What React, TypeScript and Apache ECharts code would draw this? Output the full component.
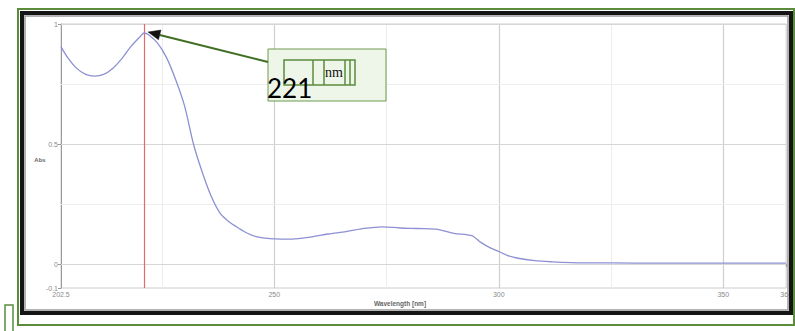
import React, { useEffect, useRef } from "react";
import * as echarts from "echarts";

// Absorption spectrum (wavelength in nm, absorbance)
const wavelengths = [
  202.5, 204, 206, 208, 210, 212, 214, 216, 218, 220, 221, 222, 224, 226, 228,
  230, 232, 234, 236, 238, 240, 242, 244, 246, 248, 250, 254, 258, 262, 266,
  270, 274, 278, 282, 286, 290, 294, 296, 298, 300, 302, 304, 308, 312, 316,
  320, 330, 340, 350, 364,
];
const absorbance = [
  0.905, 0.86, 0.815, 0.79, 0.783, 0.79, 0.815, 0.855, 0.905, 0.945, 0.9625,
  0.955, 0.92, 0.86, 0.77, 0.66, 0.5, 0.38, 0.28, 0.21, 0.175, 0.15, 0.128,
  0.114, 0.108, 0.105, 0.104, 0.112, 0.125, 0.135, 0.148, 0.155, 0.15, 0.148,
  0.145, 0.128, 0.118, 0.09, 0.068, 0.052, 0.035, 0.025, 0.014, 0.009, 0.006,
  0.005, 0.004, 0.004, 0.004, 0.004,
];

const xLabelValues = [202.5, 250, 300, 350, 364];
const yLabelValues = [-0.1, 0, 0.5, 1];
const majorX = [250, 300, 350];
const minorX = [225, 275, 325];
const majorY = [0, 0.5, 1];
const minorY = [0.25, 0.75];

const peakWavelength = 221;
const peakLabel = "221";
const unitLabel = "nm";
const xAxisTitle = "Wavelength [nm]";
const yAxisTitle = "Abs";

const GREEN = "#5b8c3c";

export default function App() {
  const ref = useRef<HTMLDivElement>(null);

  useEffect(() => {
    const chart = echarts.init(ref.current!, null, { renderer: "svg" });
    const points = wavelengths.map((w, i) => [w, absorbance[i]]);
    const peakAbs = absorbance[wavelengths.indexOf(peakWavelength)];

    const gridLines = [
      ...majorX.map((v) => ({ xAxis: v, lineStyle: { color: "#cfcfcf", width: 1.2, type: "solid" } })),
      ...minorX.map((v) => ({ xAxis: v, lineStyle: { color: "#ededed", width: 1, type: "solid" } })),
      ...majorY.map((v) => ({ yAxis: v, lineStyle: { color: "#d6d6d6", width: 1.2, type: "solid" } })),
      ...minorY.map((v) => ({ yAxis: v, lineStyle: { color: "#ededed", width: 1, type: "solid" } })),
    ];

    chart.setOption({
      animation: false,
      backgroundColor: "#ffffff",
      grid: {
        left: 61,
        top: 24,
        width: 726,
        height: 264,
        show: true,
        borderColor: "#cccccc",
        borderWidth: 1,
      },
      xAxis: {
        type: "value",
        min: 202.5,
        max: 364,
        axisLine: { show: true, lineStyle: { color: "#9a9a9a", width: 1 } },
        axisTick: { show: true, customValues: xLabelValues, length: 3, lineStyle: { color: "#999" } },
        axisLabel: {
          customValues: xLabelValues,
          formatter: (v: number) => String(v),
          fontSize: 7,
          color: "#8a8a8a",
          margin: 3,
          showMinLabel: true,
          showMaxLabel: true,
        },
        splitLine: { show: false },
      },
      yAxis: {
        type: "value",
        min: -0.1,
        max: 1,
        axisLine: { show: true, lineStyle: { color: "#9a9a9a", width: 1 } },
        axisTick: { show: true, customValues: yLabelValues, length: 3, lineStyle: { color: "#999" } },
        axisLabel: {
          customValues: yLabelValues,
          formatter: (v: number) => String(v),
          fontSize: 7,
          color: "#8a8a8a",
          margin: 3,
          showMinLabel: true,
          showMaxLabel: true,
        },
        splitLine: { show: false },
      },
      series: [
        {
          type: "line",
          data: points,
          smooth: 0.3,
          showSymbol: false,
          z: 3,
          lineStyle: { color: "#8d90d4", width: 1.3 },
          markLine: {
            silent: true,
            symbol: "none",
            label: { show: false },
            z: 1,
            data: [
              ...gridLines,
              { xAxis: peakWavelength, lineStyle: { color: "#e26a6a", width: 1.2, type: "solid" } },
            ],
          },
        },
      ],
    });

    // Arrow pointing at the absorption maximum
    const tip = chart.convertToPixel({ gridIndex: 0 }, [peakWavelength, peakAbs]) as number[];
    const tipX = tip[0] + 4;
    const tipY = tip[1] - 1;
    const tailX = 268;
    const tailY = 62;
    const dx = tipX - tailX;
    const dy = tipY - tailY;
    const len = Math.sqrt(dx * dx + dy * dy);
    const ux = dx / len;
    const uy = dy / len;
    const bx = tipX - ux * 12;
    const by = tipY - uy * 12;
    const nx = -uy;
    const ny = ux;

    chart.setOption({
      graphic: [
        // outer green frame
        { type: "rect", z: 100, shape: { x: 18, y: 9, width: 776, height: 316 }, style: { fill: "none", stroke: GREEN, lineWidth: 2 } },
        // dark bevelled window frame
        { type: "rect", z: 100, shape: { x: 22, y: 13, width: 769, height: 300 }, style: { fill: "none", stroke: "#151515", lineWidth: 4 } },
        { type: "rect", z: 100, shape: { x: 25, y: 16, width: 763, height: 294 }, style: { fill: "none", stroke: "#9a9a9a", lineWidth: 1.5 } },
        // small bracket at the bottom left
        { type: "polyline", z: 100, shape: { points: [[5, 331], [5, 305], [13, 305], [13, 331]] }, style: { fill: "none", stroke: GREEN, lineWidth: 1.5 } },
        // axis titles
        { type: "text", z: 100, x: 40, y: 160, style: { text: yAxisTitle, fontSize: 6, fontWeight: "bold", fill: "#666", align: "center", verticalAlign: "middle", fontFamily: "Liberation Sans" } },
        { type: "text", z: 100, x: 400, y: 303, style: { text: xAxisTitle, fontSize: 6.5, fontWeight: "bold", fill: "#666", align: "center", verticalAlign: "middle", fontFamily: "Liberation Sans" } },
        // annotation box
        { type: "rect", z: 100, shape: { x: 268, y: 49, width: 118, height: 52 }, style: { fill: "#eef5e9", stroke: "#6c9c4c", lineWidth: 1 } },
        { type: "rect", z: 101, shape: { x: 284, y: 60, width: 71, height: 25 }, style: { fill: "none", stroke: GREEN, lineWidth: 1.5 } },
        { type: "line", z: 101, shape: { x1: 313, y1: 60, x2: 313, y2: 85 }, style: { stroke: GREEN, lineWidth: 1.5 } },
        { type: "line", z: 101, shape: { x1: 324, y1: 60, x2: 324, y2: 85 }, style: { stroke: GREEN, lineWidth: 1.5 } },
        { type: "line", z: 101, shape: { x1: 345, y1: 60, x2: 345, y2: 85 }, style: { stroke: GREEN, lineWidth: 1.5 } },
        { type: "line", z: 101, shape: { x1: 350, y1: 60, x2: 350, y2: 85 }, style: { stroke: GREEN, lineWidth: 1.5 } },
        { type: "text", z: 102, x: 334, y: 72, style: { text: unitLabel, fontSize: 14, fill: "#111", align: "center", verticalAlign: "middle", fontFamily: "Liberation Serif" } },
        { type: "text", z: 102, x: 267, y: 88, style: { text: peakLabel, fontSize: 26, fill: "#000", align: "left", verticalAlign: "middle", fontFamily: "Lato" } },
        // arrow
        { type: "line", z: 102, shape: { x1: tailX, y1: tailY, x2: bx, y2: by }, style: { stroke: "#3f6e24", lineWidth: 2 } },
        {
          type: "polygon",
          z: 103,
          shape: { points: [[tipX, tipY], [bx + nx * 5, by + ny * 5], [bx - nx * 5, by - ny * 5]] },
          style: { fill: "#111", stroke: "#111", lineWidth: 0.5 },
        },
      ],
    });

    return () => chart.dispose();
  }, []);

  return (
    <div
      ref={ref}
      style={{ position: "fixed", left: 0, top: 0, width: 795, height: 331, background: "#fff" }}
    />
  );
}
